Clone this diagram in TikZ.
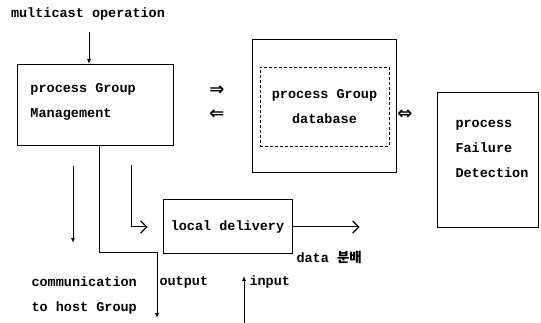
\documentclass[tikz,border=0pt]{standalone}
\usepackage{fontspec}
\setmonofont{Liberation Mono}
\newfontfamily\hangul{Noto Sans CJK KR}
\newfontfamily\arrowfont{DejaVu Sans}
\usetikzlibrary{arrows.meta}

\begin{document}
\begin{tikzpicture}[x=1pt, y=-1pt, line width=1pt,
    box/.style = {rectangle, draw, line width=1pt},
    corebox/.style = {rectangle, draw, densely dashed, line width=0.6pt},
    caption/.style = {anchor=west, inner sep=0pt, align=left},
    arrowsign/.style = {font=\arrowfont\bfseries\fontsize{18}{18}\selectfont},
    barb/.style = {-{Straight Barb[length=6pt, width=12pt, line width=1.2pt]}},
    >={Latex[length=5pt, width=4pt]},
    font=\ttfamily\bfseries\fontsize{13.5}{25}\selectfont]
  \useasboundingbox (0,0) rectangle (541,323);

  % Boxes.
  \node at (95, 105) [box, minimum width=156, minimum height=81, name=Management] {};
  \node at (30, 101.5) [caption, name=ManagementText] {process Group\\Management};
  \node at (324.5, 106.5) [box, minimum width=144, minimum height=133, name=Database] {};
  \node at (324.5, 106.5) [corebox, align=center, minimum width=129, minimum height=79, name=DatabaseCore] {process Group\\database};
  \node at (487.5, 160.5) [box, minimum width=101, minimum height=135, name=Failure] {};
  \node at (455, 148.5) [caption, name=FailureText] {process\\Failure\\Detection};
  \node at (227.5, 227) [box, minimum width=129, minimum height=54, name=Delivery] {local delivery};

  % Exchange between the boxes.
  \node at (217, 91) [arrowsign, name=ToDatabase] {⇒};
  \node at (217, 115) [arrowsign, name=FromDatabase] {⇐};
  \node at (405, 115) [arrowsign, name=DatabaseFailure] {⇔};

  % Texts.
  \node at (88, 14) [name=Multicast] {multicast operation};
  \node at (31, 295.5) [caption, name=Communication] {communication\\to host Group};
  \node at (159, 282) [caption, name=Output] {output};
  \node at (249, 282) [caption, name=Input] {input};
  \node at (296, 257) [caption, name=Data] {data {\hangul 분배}};

  % Free ends.
  \coordinate (MulticastStart) at (89, 32);
  \coordinate (CommunicationStart) at (73, 166);
  \coordinate (DeliveryFeed) at (131, 165);
  \coordinate (InputStart) at (244, 323);
  \path (Management.south) ++(4, 0) coordinate (OutputStart);
  \coordinate (OutputEnd) at (157, 318);

  % Connectors.
  \draw [->] (MulticastStart)
             to (MulticastStart |- Management.north);
  \draw [->] (CommunicationStart)
             to ++(0, 77);
  \draw [->] (OutputStart)
             |- (OutputEnd |- 0, 253)
             -- (OutputEnd);
  \draw [barb] (DeliveryFeed)
             |- ([xshift=-15pt] Delivery.west);
  \draw [barb] (Delivery.east)
             to ++(67, 0);
  \draw [->] (InputStart)
             to ++(0, -47);
\end{tikzpicture}
\end{document}
